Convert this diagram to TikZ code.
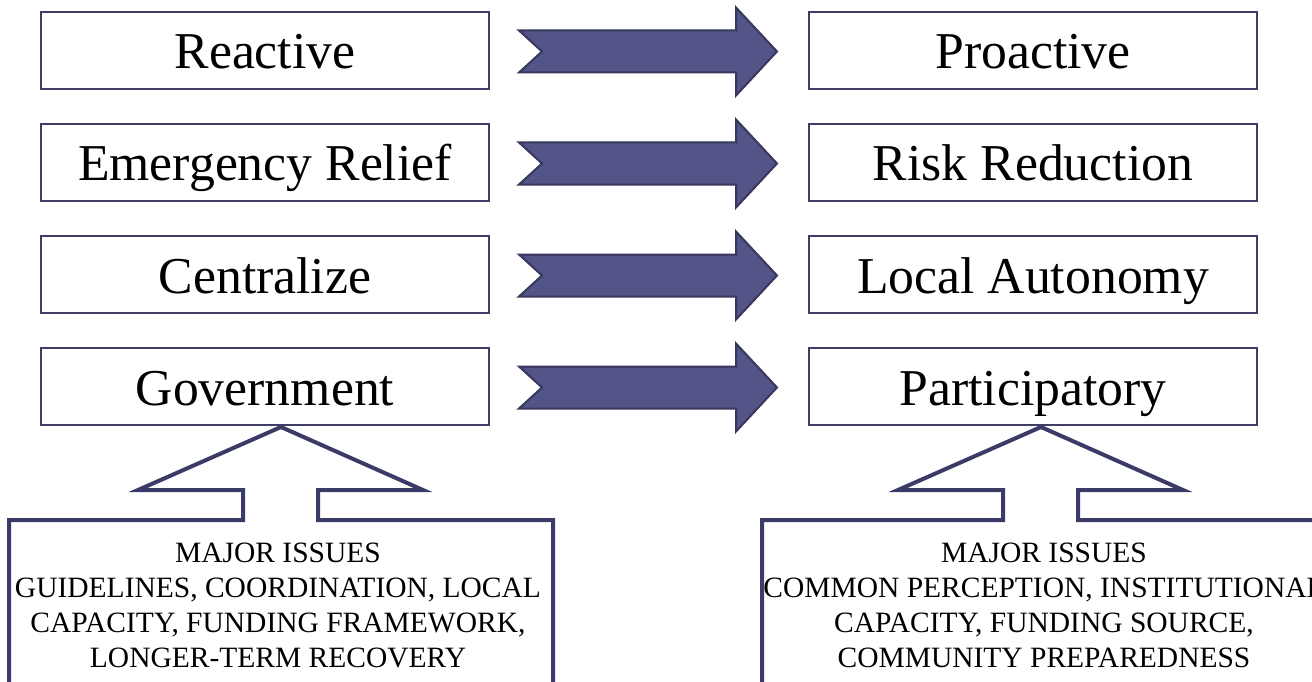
\documentclass[tikz,border=0pt]{standalone}
\usepackage{fontspec}
\setmainfont{Liberation Serif}
\definecolor{boxline}{RGB}{62,62,102}
\definecolor{arrowfill}{RGB}{83,84,135}
\definecolor{arrowline}{RGB}{56,56,92}
\definecolor{callline}{RGB}{59,59,104}
\tikzset{
  stage/.style={draw=boxline, line width=1.6pt, fill=white, minimum width=448pt, minimum height=77pt, inner sep=0pt, text height=48pt, text depth=11pt, font=\fontsize{51.7}{60}\selectfont},
  blockarrow/.style={fill=arrowfill, draw=arrowline, line width=2pt, line join=miter},
  callout/.style={draw=callline, line width=4pt, line join=miter},
  issues/.style={align=center, inner sep=0pt, font=\fontsize{29.5}{35}\selectfont}
}
\begin{document}
\begin{tikzpicture}[x=1pt,y=-1pt]
\useasboundingbox (0,0) rectangle (1312,682);
% boxes
\node[stage] (l1) at (265,50.5) {Reactive};
\node[stage] (l2) at (265,162.5) {Emergency Relief};
\node[stage] (l3) at (265,274.5) {Centralize};
\node[stage] (l4) at (265,386.5) {Government};
\node[stage] (r1) at (1033,50.5) {Proactive};
\node[stage] (r2) at (1033,162.5) {Risk Reduction};
\node[stage] (r3) at (1033,274.5) {Local Autonomy};
\node[stage] (r4) at (1033,386.5) {Participatory};
% block arrows
\foreach \cy in {51.5,163.5,275.5,387.5}{
  \draw[blockarrow] (519,\cy-21) -- (736,\cy-21) -- (736,\cy-44) -- (777,\cy) -- (736,\cy+44) -- (736,\cy+21) -- (519,\cy+21) -- (542,\cy) -- cycle;
}
% callouts
\draw[callout] (9,700) -- (9,520) -- (243,520) -- (243,490) -- (138,490) -- (281,427) -- (423,490) -- (318,490) -- (318,520) -- (553,520) -- (553,700);
\draw[callout] (762,700) -- (762,520) -- (1003,520) -- (1003,490) -- (898,490) -- (1041,427) -- (1183,490) -- (1078,490) -- (1078,520) -- (1330,520);
\node[issues] (li) at (278,605) {MAJOR ISSUES\\GUIDELINES, COORDINATION, LOCAL\\CAPACITY, FUNDING FRAMEWORK,\\LONGER-TERM RECOVERY};
\node[issues] (ri) at (1044,605) {MAJOR ISSUES\\COMMON PERCEPTION, INSTITUTIONAL\\CAPACITY, FUNDING SOURCE,\\COMMUNITY PREPAREDNESS};
\end{tikzpicture}
\end{document}
